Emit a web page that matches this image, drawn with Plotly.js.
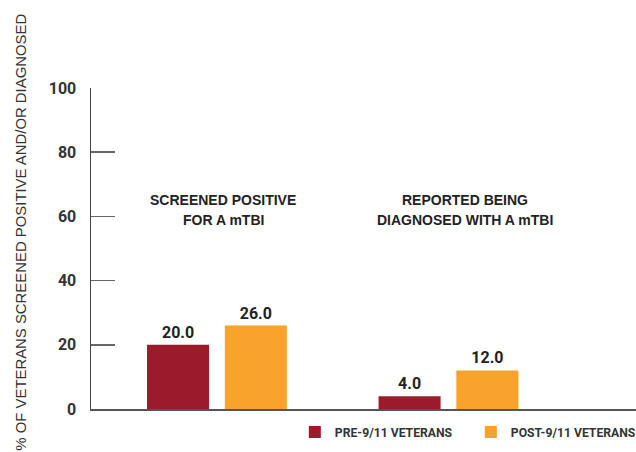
<!DOCTYPE html>
<html>
<head>
<meta charset="utf-8">
<script src="https://cdn.plot.ly/plotly-3.0.1.min.js"></script>
<style>html,body{margin:0;padding:0;background:#fff;}#chart{width:636px;height:452px;}</style>
</head>
<body>
<div id="chart"></div>
<script>
// ---- data ----
var categories = ["Screened positive for a mTBI", "Reported being diagnosed with a mTBI"];
var groupLabelLine1 = ["SCREENED POSITIVE", "REPORTED BEING"];
var groupLabelLine2 = ["FOR A mTBI", "DIAGNOSED WITH A mTBI"];
var seriesNames = ["PRE-9/11 VETERANS", "POST-9/11 VETERANS"];
var preValues = [20.0, 4.0];
var postValues = [26.0, 12.0];
var yTickValues = [0, 20, 40, 60, 80, 100];
var yTitle = "% OF VETERANS SCREENED POSITIVE AND/OR DIAGNOSED";

// ---- styles ----
var colors = ["#9b1b2b", "#f9a22c"];
var barWidth = 0.268;
var barOffsets = [-0.300, 0.036];
var numFont = {family: "Roboto, 'Noto Sans', sans-serif", size: 16, color: "#222", weight: 700};
var labelFont = {family: "'Liberation Sans', Arial, sans-serif", size: 14, color: "#222", weight: 700};

function barTrace(name, vals, color, offset) {
  return {
    type: "bar", name: name, x: categories, y: vals,
    width: barWidth, offset: offset,
    marker: {color: color},
    text: vals.map(function (v) { return v.toFixed(1); }),
    textposition: "outside", textfont: numFont, cliponaxis: false,
    hoverinfo: "none"
  };
}

var data = [
  barTrace(seriesNames[0], preValues, colors[0], barOffsets[0]),
  barTrace(seriesNames[1], postValues, colors[1], barOffsets[1])
];

var annotations = [];
var labelShift = [7, 17];
categories.forEach(function (c, i) {
  annotations.push({x: c, y: 65.1, xref: "x", yref: "y", text: groupLabelLine1[i], showarrow: false,
    xshift: labelShift[i], font: labelFont});
  annotations.push({x: c, y: 58.9, xref: "x", yref: "y", text: groupLabelLine2[i], showarrow: false,
    xshift: labelShift[i], font: labelFont});
});
annotations.push({
  x: -0.128, y: 1.237, xref: "paper", yref: "paper", xanchor: "center", yanchor: "top",
  text: yTitle, textangle: -90, showarrow: false,
  font: {family: "'Liberation Sans', Arial, sans-serif", size: 14.9, color: "#333"}
});

var layout = {
  width: 636, height: 452,
  margin: {l: 91, r: 0, t: 88, b: 43, pad: 0, autoexpand: false},
  paper_bgcolor: "#fff", plot_bgcolor: "#fff",
  barmode: "group",
  showlegend: true,
  legend: {orientation: "h", x: 0.374, xanchor: "left", y: -0.072, yanchor: "middle",
    font: {family: "Roboto, sans-serif", size: 12.2, color: "#333", weight: 700},
    itemwidth: 30, entrywidth: 131, traceorder: "normal", bgcolor: "rgba(0,0,0,0)"},
  xaxis: {range: [-0.542, 1.812], showticklabels: false, ticks: "", showgrid: false, zeroline: false,
    showline: true, linecolor: "#555", linewidth: 1.5, fixedrange: true},
  yaxis: {range: [0, 100], tickvals: yTickValues, ticktext: yTickValues.map(String),
    ticks: "inside", ticklen: 24, tickwidth: 1.5, tickcolor: "#666",
    showline: true, linecolor: "#444", linewidth: 1.5, showgrid: false, zeroline: false,
    ticklabelstandoff: 10,
    tickfont: {family: "Roboto, sans-serif", size: 16, color: "#333", weight: 700}, fixedrange: true},
  annotations: annotations,
  font: {family: "Roboto, sans-serif"}
};

Plotly.newPlot("chart", data, layout, {displayModeBar: false, staticPlot: true});
</script>
</body>
</html>
